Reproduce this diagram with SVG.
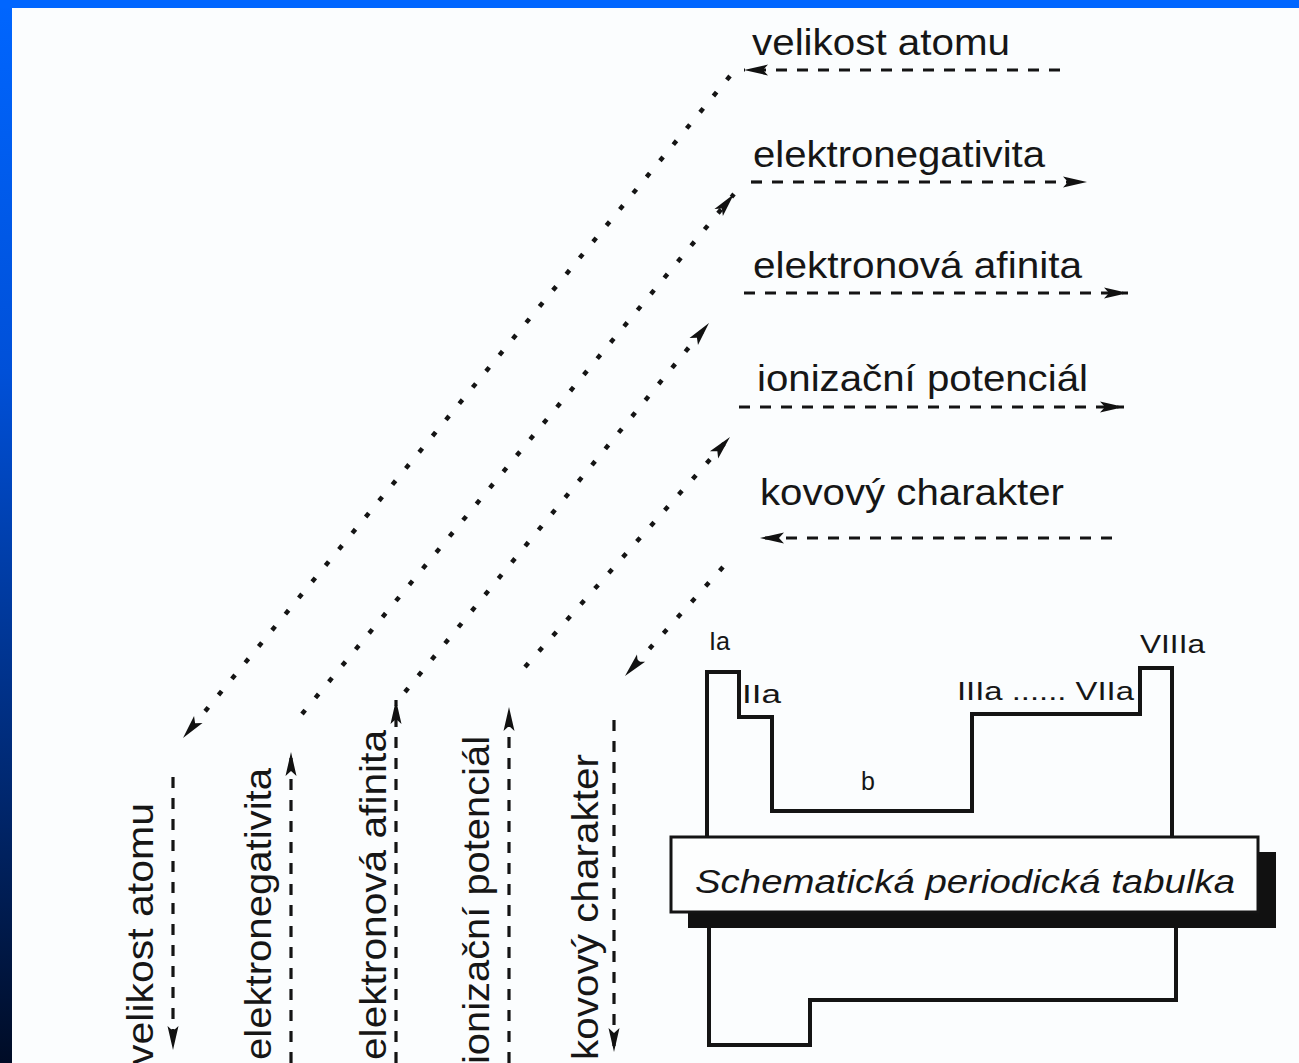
<svg xmlns="http://www.w3.org/2000/svg" width="1299" height="1063" viewBox="0 0 1299 1063">
  <defs>
    <linearGradient id="sideBand" x1="0" y1="0" x2="0" y2="1">
      <stop offset="0" stop-color="#0066ff"/>
      <stop offset="0.35" stop-color="#0050d8"/>
      <stop offset="0.75" stop-color="#00276e"/>
      <stop offset="1" stop-color="#000c26"/>
    </linearGradient>
    <!-- slim filled arrowhead with a shallow notch, tip at the path end -->
    <marker id="head" markerUnits="userSpaceOnUse" markerWidth="30" markerHeight="16" viewBox="-28 -8 30 16" refX="0" refY="0" orient="auto">
      <path d="M0,0 L-24,-5.5 L-19,0 L-24,5.5 Z" fill="#111"/>
    </marker>
    <style>
      .lbl { font-family: "Liberation Sans", Arial, sans-serif; font-size: 36px; fill: #161616; }
      .grp { font-family: "Liberation Sans", Arial, sans-serif; font-size: 25px; fill: #161616; }
      .cap { font-family: "Liberation Sans", Arial, sans-serif; font-size: 33px; font-style: italic; fill: #161616; }
      .dash { fill: none; stroke: #141414; stroke-width: 3.2; stroke-dasharray: 11 10; }
      .dot { fill: none; stroke: #141414; stroke-width: 4.5; stroke-dasharray: 5 16; }
      .outline { fill: none; stroke: #141414; stroke-width: 4; stroke-linejoin: miter; }
    </style>
  </defs>

  <!-- page background and frame bands -->
  <rect x="0" y="0" width="1299" height="1063" fill="#fbfdfe"/>
  <rect x="0" y="0" width="12" height="1063" fill="url(#sideBand)"/>
  <rect x="0" y="0" width="1299" height="8" fill="#0066ff"/>

  <!-- connectors -->
  <g id="connectors">
    <!-- diagonal dotted trends -->
    <path class="dot" d="M730,76 L183,738" marker-end="url(#head)"/>
    <path class="dot" d="M302,714 L734,194" marker-end="url(#head)"/>
    <path class="dot" d="M405,692 L709,323" marker-end="url(#head)"/>
    <path class="dot" d="M525,667 L730,437" marker-end="url(#head)"/>
    <path class="dot" d="M723,567 L625,676" marker-end="url(#head)"/>

    <!-- horizontal dashed trends (across a period) -->
    <path class="dash" d="M1060,70 L744,70" marker-end="url(#head)"/>
    <path class="dash" d="M751,182 L1087,182" marker-end="url(#head)"/>
    <path class="dash" d="M744,293 L1128,293" marker-end="url(#head)"/>
    <path class="dash" d="M739,407 L1124,407" marker-end="url(#head)"/>
    <path class="dash" d="M1112,538 L760,538" marker-end="url(#head)"/>

    <!-- vertical dashed trends (down a group) -->
    <path class="dash" d="M173,777 L173,1050" marker-end="url(#head)"/>
    <path class="dash" d="M291,1063 L291,752" marker-end="url(#head)"/>
    <path class="dash" d="M396,1063 L396,700" marker-end="url(#head)"/>
    <path class="dash" d="M509,1063 L509,707" marker-end="url(#head)"/>
    <path class="dash" d="M614,720 L614,1052" marker-end="url(#head)"/>
  </g>

  <!-- horizontal labels -->
  <g id="h-velikost"><text class="lbl" x="752" y="55" textLength="258" lengthAdjust="spacingAndGlyphs">velikost atomu</text></g>
  <g id="h-elektronegativita"><text class="lbl" x="753" y="167" textLength="292" lengthAdjust="spacingAndGlyphs">elektronegativita</text></g>
  <g id="h-afinita"><text class="lbl" x="753" y="278" textLength="329" lengthAdjust="spacingAndGlyphs">elektronová afinita</text></g>
  <g id="h-ionizace"><text class="lbl" x="757" y="391" textLength="331" lengthAdjust="spacingAndGlyphs">ionizační potenciál</text></g>
  <g id="h-kovovy"><text class="lbl" x="760" y="505" textLength="304" lengthAdjust="spacingAndGlyphs">kovový charakter</text></g>

  <!-- vertical labels -->
  <g id="v-velikost"><text class="lbl" transform="translate(153,1065) rotate(-90)" textLength="262" lengthAdjust="spacingAndGlyphs">velikost atomu</text></g>
  <g id="v-elektronegativita"><text class="lbl" transform="translate(271,1060) rotate(-90)" textLength="292" lengthAdjust="spacingAndGlyphs">elektronegativita</text></g>
  <g id="v-afinita"><text class="lbl" transform="translate(386,1060) rotate(-90)" textLength="330" lengthAdjust="spacingAndGlyphs">elektronová afinita</text></g>
  <g id="v-ionizace"><text class="lbl" transform="translate(489,1064) rotate(-90)" textLength="328" lengthAdjust="spacingAndGlyphs">ionizační potenciál</text></g>
  <g id="v-kovovy"><text class="lbl" transform="translate(598,1060) rotate(-90)" textLength="306" lengthAdjust="spacingAndGlyphs">kovový charakter</text></g>

  <!-- schematic periodic table -->
  <g id="table">
    <path class="outline" d="M707,838 L707,672 L739,672 L739,717 L772,717 L772,811 L972,811 L972,714 L1140,714 L1140,668 L1172,668 L1172,838"/>
    <path class="outline" d="M709,928 L709,1045 L810,1045 L810,1000 L1176,1000 L1176,928"/>
    <text class="grp" x="709" y="650" textLength="21" lengthAdjust="spacingAndGlyphs">Ia</text>
    <text class="grp" x="742" y="703" textLength="39" lengthAdjust="spacingAndGlyphs">IIa</text>
    <text class="grp" x="957" y="700" textLength="177" lengthAdjust="spacingAndGlyphs">IIIa ...... VIIa</text>
    <text class="grp" x="1140" y="653" textLength="65" lengthAdjust="spacingAndGlyphs">VIIIa</text>
    <text class="grp" x="861" y="790">b</text>
  </g>

  <g id="caption">
    <rect x="688" y="852" width="588" height="76" fill="#111"/>
    <rect x="671" y="837" width="587" height="75" fill="#fdfefe" stroke="#141414" stroke-width="3"/>
    <text class="cap" x="695" y="893" textLength="540" lengthAdjust="spacingAndGlyphs">Schematická periodická tabulka</text>
  </g>
</svg>
